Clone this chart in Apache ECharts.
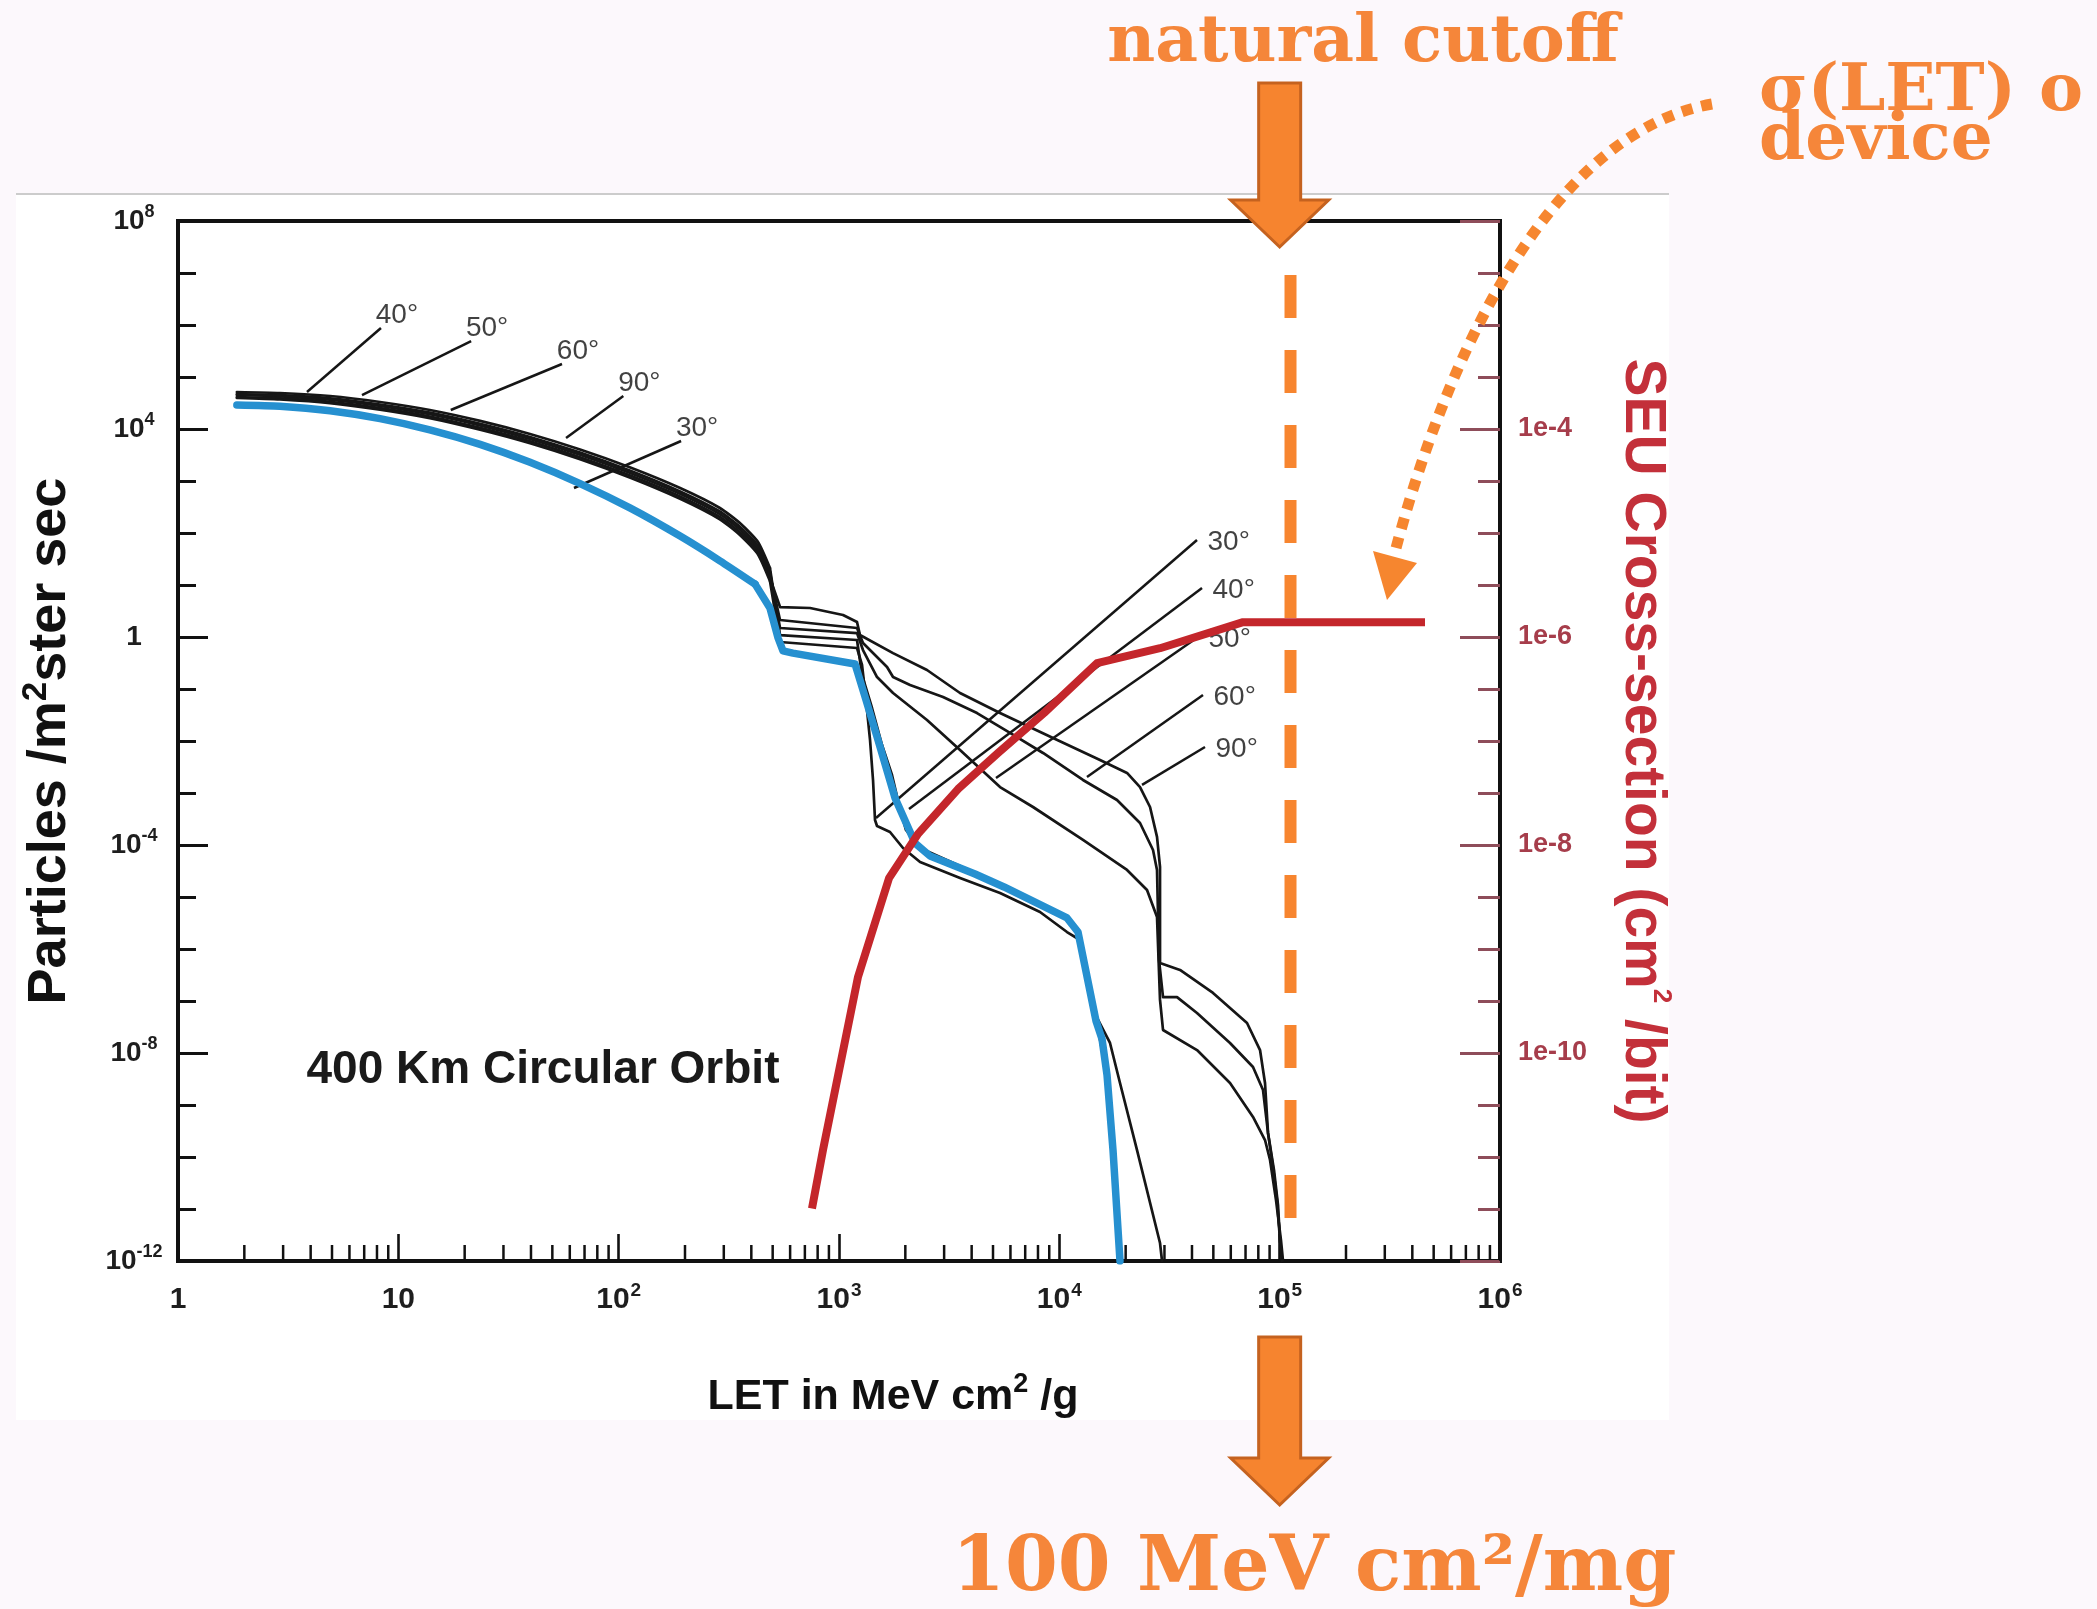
<!DOCTYPE html>
<html>
<head>
<meta charset="utf-8">
<title>LET spectrum and SEU cross-section</title>
<script src="https://cdn.jsdelivr.net/npm/echarts@6.0.0/dist/echarts.min.js"></script>
<style>
html,body{margin:0;padding:0;background:#fcf8fc;}
#chart{width:2097px;height:1609px;}
</style>
</head>
<body>
<div id="chart"></div>
<script>
// ---------- tick labels ----------
const xTickExps = [0, 1, 2, 3, 4, 5, 6];
const yLeftTickExps = [8, 4, 0, -4, -8, -12];
const yRightTickExps = [-4, -6, -8, -10];
const xMinorMultipliers = [2, 3, 4, 5, 6, 7, 8, 9];
const xDecades = [1, 10, 100, 1000, 10000, 100000];

// ---------- flux curves (LET MeV cm2/g, particles /m2 ster sec) ----------
// upper (smooth) part and lower (stepped) part of each inclination curve
const curve40Upper = [[1.85,5.15e4],[2.9,4.92e4],[4.9,4.31e4],[8.26,3.31e4],[13.9,2.32e4],[23.5,1.43e4],[39.6,8013],[66.8,4035],[113,1818],[190,733],[288,303],[359,149],[429,67.1],[486,21.2]];
const curve40Lower = [[486,21.2],[540,1.09],[1207,0.876],[1272,0.186],[1412,0.0431],[1568,8.38e-3],[1740,2.22e-3],[1873,5.88e-4],[2014,1.94e-4],[2333,8.76e-5],[3542,3.95e-5],[5610,1.63e-5],[10835,4.12e-6],[12153,2.22e-6],[14674,4.31e-8],[16460,3.78e-9],[17706,1.36e-10],[19051,1e-12]];
const curve50Upper = [[1.85,4.71e4],[2.9,4.48e4],[4.9,3.89e4],[8.26,2.96e4],[13.9,2.07e4],[23.5,1.26e4],[39.6,7040],[66.8,3521],[113,1576],[190,631],[288,259],[359,126.5],[429,56.6],[486,17.8]];
const curve50Lower = [[486,17.8],[540,1.49],[1207,1.19],[1285,0.562],[1488,0.170],[1759,0.0838],[2508,0.0253],[3542,6.71e-3],[5381,1.30e-3],[7596,5.38e-4],[12805,1.25e-4],[20289,3.31e-5],[25003,1.36e-5],[27754,4.12e-6],[28640,1.05e-7],[29550,2.77e-8],[42150,1.14e-8],[59520,2.65e-9],[75690,5.88e-10],[85800,2.12e-10],[90420,8.76e-11],[96250,1.49e-11],[101400,2.5e-12],[103560,1e-12]];
const curve60Upper = [[1.85,4.51e4],[2.9,4.25e4],[4.9,3.67e4],[8.26,2.78e4],[13.9,1.92e4],[23.5,1.17e4],[39.6,6463],[66.8,3212],[113,1427],[190,568],[288,231],[359,112.3],[429,49.9],[486,15.6]];
const curve60Lower = [[486,15.6],[540,2.12],[1207,1.49],[1285,0.767],[1652,0.265],[1759,0.170],[2101,0.119],[2966,0.0702],[4231,0.0345],[5972,0.0143],[8433,5.88e-3],[12805,1.78e-3],[18271,7.33e-4],[23238,2.65e-4],[26620,8.0e-5],[27754,3.31e-5],[28340,6.14e-7],[29550,1.19e-7],[34210,1.19e-7],[42150,5.88e-8],[59520,1.56e-8],[75690,5.38e-9],[84030,1.94e-9],[88540,2.9e-10],[94280,5.6e-11],[98300,1.19e-11],[100370,2.5e-12],[102500,1e-12]];
const curve90Upper = [[1.85,4.12e4],[2.9,3.88e4],[4.9,3.34e4],[8.26,2.52e4],[13.9,1.74e4],[23.5,1.05e4],[39.6,5797],[66.8,2870],[113,1271],[190,504],[288,204],[359,99],[429,43.8],[486,13.6]];
const curve90Lower = [[486,13.6],[540,3.77],[739,3.61],[1043,2.65],[1207,1.94],[1245,1.09],[1759,0.49],[2508,0.232],[3542,0.0838],[5381,0.0345],[9361,0.0114],[15297,4.31e-3],[20289,2.43e-3],[23238,1.30e-3],[25800,5.38e-4],[27754,1.43e-4],[28640,3.78e-5],[28640,5.38e-7],[35290,3.95e-7],[49830,1.43e-7],[71100,3.78e-8],[81450,1.14e-8],[85800,2.65e-9],[88540,2.9e-10],[93290,6.4e-11],[97270,1.49e-11],[100370,2.5e-12],[102500,1e-12]];
const curve30Upper = [[1.85,3.95e4],[2.9,3.69e4],[4.9,3.15e4],[8.26,2.36e4],[13.9,1.62e4],[23.5,9698],[39.6,5324],[66.8,2617],[113,1152],[190,454],[288,183],[359,87.9],[429,38.7],[486,11.9]];
const curve30Lower = [[486,11.9],[540,0.801],[1207,0.614],[1272,0.290],[1326,0.0614],[1383,0.0105],[1427,1.78e-3],[1457,3.03e-4],[1488,2.32e-4],[1704,1.78e-4],[1952,8.76e-5],[2333,4.71e-5],[3542,2.32e-5],[5381,1.19e-5],[8172,5.15e-6],[10835,2.12e-6],[12408,1.49e-6],[14222,6.71e-8],[16982,1.56e-8],[18852,2.65e-9],[22522,1.36e-10],[28640,2.22e-12],[29250,1e-12]];
const blueUpper = [[1.85,2.89e4],[2.9,2.74e4],[4.9,2.24e4],[8.26,1.58e4],[13.9,9610],[23.5,5060],[39.6,2290],[66.8,891],[113,300],[190,87.2],[288,29.2],[416,10.4]];
const blueLower = [[416,10.4],[486,3.61],[529,0.957],[557,0.54],[618,0.49],[1182,0.303],[1326,0.0614],[1503,0.0105],[1796,8.0e-4],[2213,1.09e-4],[2589,6.14e-5],[4143,2.77e-5],[5610,1.56e-5],[10835,3.95e-6],[12153,2.12e-6],[14674,4.12e-8],[15621,1.86e-8],[16460,3.78e-9],[17522,1.36e-10],[18852,1e-12]];

// ---------- SEU cross-section (cm2/bit), right axis ----------
const seuCurve = [[754,3.2e-12],[846,1.17e-11],[1220,5.4e-10],[1687,4.8e-9],[2284,1.28e-8],[3469,3.45e-8],[5268,7.67e-8],[8522,1.86e-7],[14830,5.6e-7],[28640,7.8e-7],[68200,1.39e-6],[456700,1.39e-6]];

// ---------- inclination labels and their leader lines ----------
const leadersTopLeft = [
  {name:'40°', from:[8.34,8.76e5], to:[3.85,5.15e4]},
  {name:'50°', from:[21.4,4.92e5], to:[6.84,4.5e4]},
  {name:'60°', from:[55.3,1.78e5], to:[17.3,2.32e4]},
  {name:'90°', from:[105,4.31e4], to:[57.7,6710]},
  {name:'30°', from:[192,5880], to:[62.7,733]}
];
const leadersBottomRight = [
  {name:'30°', from:[42150,73.3], to:[1472,3.31e-4]},
  {name:'40°', from:[44420,8.76], to:[2078,4.92e-4]},
  {name:'50°', from:[42600,1], to:[5159,1.94e-3]},
  {name:'60°', from:[44880,0.0767], to:[13350,2.03e-3]},
  {name:'90°', from:[45830,7.67e-3], to:[23730,1.43e-3]}
];

// ---------- natural cutoff ----------
const cutoffLine = [[1.12e5,6.7e-12],[1.12e5,3.2e7]];
const cutoffArrowX = 1e5;

const FONT = "'Liberation Sans', Arial, Helvetica, sans-serif";
const SERIF = "'DejaVu Serif', 'Liberation Serif', serif";
const ORANGE = '#f5863a';

const xMinorTicks = [];
xDecades.forEach(d => xMinorMultipliers.forEach(m => xMinorTicks.push([d * m, 1e-12])));

function expOf(v){ return Math.round(Math.log10(v)); }

const chart = echarts.init(document.getElementById('chart'), null, {renderer:'canvas', width:2097, height:1609});

function blackCurve(name, data, smooth){
  return {name:name, type:'line', xAxisIndex:0, yAxisIndex:0, data:data, symbol:'none', showSymbol:false, smooth:smooth,
    lineStyle:{color:'#161616', width:2.7, cap:'round', join:'round'}, z:2, silent:true};
}
function blueCurve(data, smooth){
  return {name:'shielded', type:'line', xAxisIndex:0, yAxisIndex:0, data:data, symbol:'none', showSymbol:false, smooth:smooth, silent:true, z:4,
    lineStyle:{color:'#2690d0', width:7.5, cap:'round', join:'round'}};
}

const option = {
  animation:false,
  backgroundColor:'transparent',
  grid:{left:178, top:221, width:1322, height:1040, show:true, backgroundColor:'#ffffff', borderColor:'#111', borderWidth:4, containLabel:false, outerBoundsMode:'none'},
  xAxis:[{
    type:'log', logBase:10, min:1, max:1e6, interval:1, position:'bottom',
    axisLine:{show:true, lineStyle:{color:'#111', width:4}},
    axisTick:{show:true, inside:true, length:27, lineStyle:{color:'#111', width:2.6}},
    splitLine:{show:false}, minorTick:{show:false},
    axisLabel:{show:true, margin:20, showMinLabel:true, showMaxLabel:true, fontSize:30, fontWeight:'bold', lineHeight:38, color:'#1e1e1e', fontFamily:FONT,
      formatter:function(v){ const e = expOf(v); if(!xTickExps.includes(e)) return ''; if(e===0) return '1'; if(e===1) return '10'; return '10{s|' + e + '}'; },
      rich:{s:{fontSize:19, fontWeight:'bold', verticalAlign:'top', color:'#1e1e1e', fontFamily:FONT, padding:[0,0,0,1]}}},
    name:'LET in MeV cm{s|2} /g', nameLocation:'middle', nameGap:110, nameMoveOverlap:false,
    nameTextStyle:{fontSize:43, fontWeight:'bold', color:'#111', fontFamily:FONT, lineHeight:52, padding:[0,0,0,108],
      rich:{s:{fontSize:27, fontWeight:'bold', verticalAlign:'top', color:'#111', fontFamily:FONT}}}
  }],
  yAxis:[{
    type:'log', logBase:10, min:1e-12, max:1e8, interval:4, position:'left',
    axisLine:{show:true, lineStyle:{color:'#111', width:4}},
    axisTick:{show:true, inside:true, length:30, lineStyle:{color:'#111', width:3}},
    splitLine:{show:false},
    axisLabel:{show:true, margin:44, align:'center', showMinLabel:true, showMaxLabel:true, fontSize:28, fontWeight:'bold', lineHeight:36, color:'#1e1e1e', fontFamily:FONT,
      formatter:function(v){ const e = expOf(v); if(!yLeftTickExps.includes(e)) return ''; if(e===0) return '1'; return '10{s|' + e + '}'; },
      rich:{s:{fontSize:18, fontWeight:'bold', verticalAlign:'top', color:'#1e1e1e', fontFamily:FONT}}},
    name:'Particles /m{s|2}ster sec', nameLocation:'middle', nameRotate:90, nameGap:97, nameMoveOverlap:false,
    nameTextStyle:{fontSize:54, fontWeight:'bold', color:'#111', fontFamily:FONT, lineHeight:62,
      rich:{s:{fontSize:35, fontWeight:'bold', verticalAlign:'top', color:'#111', fontFamily:FONT}}}
  },{
    type:'log', logBase:10, min:1e-12, max:1e8, interval:1, position:'left',
    axisLine:{show:false}, splitLine:{show:false}, axisLabel:{show:false},
    axisTick:{show:true, inside:true, length:18, lineStyle:{color:'#111', width:3}}
  },{
    type:'log', logBase:10, min:1e-12, max:1e-2, interval:2, position:'right',
    axisLine:{show:true, lineStyle:{color:'#111', width:4}},
    axisTick:{show:true, inside:true, length:40, lineStyle:{color:'#8e4d5a', width:3}},
    splitLine:{show:false},
    axisLabel:{show:true, margin:18, fontSize:27, fontWeight:'bold', color:'#a63d4b', fontFamily:FONT,
      formatter:function(v){ const e = expOf(v); return yRightTickExps.includes(e) ? ('1e' + e) : ''; }},
    name:'SEU Cross-section (cm{s|2} /bit)', nameLocation:'middle', nameRotate:-90, nameGap:110, nameMoveOverlap:false,
    nameTextStyle:{fontSize:57, fontWeight:'bold', color:'#c3303a', fontFamily:FONT, lineHeight:64,
      rich:{s:{fontSize:26, fontWeight:'bold', verticalAlign:'top', color:'#c3303a', fontFamily:FONT}}}
  },{
    type:'log', logBase:10, min:1e-12, max:1e-2, interval:0.5, position:'right',
    axisLine:{show:false}, splitLine:{show:false}, axisLabel:{show:false},
    axisTick:{show:true, inside:true, length:22, lineStyle:{color:'#8e4d5a', width:3}}
  }],
  series:[
    {type:'custom', xAxisIndex:0, yAxisIndex:0, data:xMinorTicks, silent:true, z:5, clip:false,
      renderItem:function(params, api){
        const p = api.coord([api.value(0), api.value(1)]);
        return {type:'line', shape:{x1:p[0], y1:p[1]-2, x2:p[0], y2:p[1]-16}, style:{stroke:'#111', lineWidth:2.5}};
      }},
    blackCurve('40°', curve40Upper, 0.2), blackCurve('40°', curve40Lower, false),
    blackCurve('50°', curve50Upper, 0.2), blackCurve('50°', curve50Lower, false),
    blackCurve('60°', curve60Upper, 0.2), blackCurve('60°', curve60Lower, false),
    blackCurve('90°', curve90Upper, 0.2), blackCurve('90°', curve90Lower, false),
    blackCurve('30°', curve30Upper, 0.2), blackCurve('30°', curve30Lower, false),
    {type:'lines', coordinateSystem:'cartesian2d', xAxisIndex:0, yAxisIndex:0, silent:true, z:3,
      data: leadersTopLeft.concat(leadersBottomRight).map(d => ({coords:[d.from, d.to]})),
      lineStyle:{color:'#161616', width:2.5, opacity:1, curveness:0}},
    {type:'scatter', xAxisIndex:0, yAxisIndex:0, silent:true, z:3, symbolSize:1, itemStyle:{color:'rgba(0,0,0,0)'},
      data: leadersTopLeft.map(d => ({name:d.name, value:d.from})),
      label:{show:true, formatter:'{b}', position:'top', distance:0, offset:[16,2], fontSize:28, fontFamily:FONT, color:'#111'}},
    {type:'scatter', xAxisIndex:0, yAxisIndex:0, silent:true, z:3, symbolSize:1, itemStyle:{color:'rgba(0,0,0,0)'},
      data: leadersBottomRight.map(d => ({name:d.name, value:d.from})),
      label:{show:true, formatter:'{b}', position:'right', distance:4, offset:[6,2], fontSize:28, fontFamily:FONT, color:'#111'}},
    blueCurve(blueUpper, 0.2),
    blueCurve(blueLower, false),
    {name:'SEU cross-section', type:'line', xAxisIndex:0, yAxisIndex:2, data:seuCurve, symbol:'none', showSymbol:false, silent:true, z:6,
      lineStyle:{color:'#c4262b', width:8, cap:'butt', join:'round'}},
    {name:'cutoff', type:'line', xAxisIndex:0, yAxisIndex:0, data:cutoffLine, symbol:'none', showSymbol:false, silent:true, z:7,
      lineStyle:{color:'#f7852f', width:12, type:[43,32], cap:'butt'}}
  ]
};
chart.setOption(option);

const cx = chart.convertToPixel({xAxisIndex:0}, cutoffArrowX);
function downArrow(top, headY, tipY){
  return [[cx-21,top],[cx+21,top],[cx+21,headY],[cx+49,headY],[cx,tipY],[cx-49,headY],[cx-21,headY]];
}
chart.setOption({graphic:[
  {type:'rect', z:-100, silent:true, shape:{x:16, y:194, width:1653, height:1226}, style:{fill:'#ffffff'}},
  {type:'line', z:-99, silent:true, shape:{x1:16, y1:194, x2:1669, y2:194}, style:{stroke:'#cccccc', lineWidth:2}},
  {type:'polygon', z:30, silent:true, shape:{points:downArrow(83,200,247)}, style:{fill:'#f6842f', stroke:'#c5621f', lineWidth:3}},
  {type:'polygon', z:30, silent:true, shape:{points:downArrow(1337,1458,1505)}, style:{fill:'#f6842f', stroke:'#c5621f', lineWidth:3}},
  {type:'bezierCurve', z:30, silent:true, shape:{x1:1712, y1:104, cpx1:1540, cpy1:135, cpx2:1440, cpy2:380, x2:1395, y2:552},
    style:{stroke:'#f6862f', lineWidth:11, lineDash:[11,9], fill:null}},
  {type:'polygon', z:30, silent:true, shape:{points:[[1373,551],[1417,563],[1387,600]]}, style:{fill:'#f6862f'}},
  {type:'text', z:30, silent:true, x:1363, y:44, style:{text:'natural cutoff', font:'bold 66px ' + SERIF, fill:ORANGE, align:'center', verticalAlign:'middle'}},
  {type:'text', z:30, silent:true, x:1759, y:93, style:{text:'σ(LET) o', font:'bold 66px ' + SERIF, fill:ORANGE, align:'left', verticalAlign:'middle'}},
  {type:'text', z:30, silent:true, x:1759, y:142, style:{text:'device', font:'bold 66px ' + SERIF, fill:ORANGE, align:'left', verticalAlign:'middle'}},
  {type:'text', z:30, silent:true, x:952, y:1570, style:{text:'100 MeV cm²/mg', font:'bold 76px ' + SERIF, fill:ORANGE, align:'left', verticalAlign:'middle'}},
  {type:'text', z:30, silent:true, x:543, y:1070, style:{text:'400 Km Circular Orbit', font:'bold 46px ' + FONT, fill:'#1a1a1a', align:'center', verticalAlign:'middle'}}
]});
</script>
</body>
</html>
